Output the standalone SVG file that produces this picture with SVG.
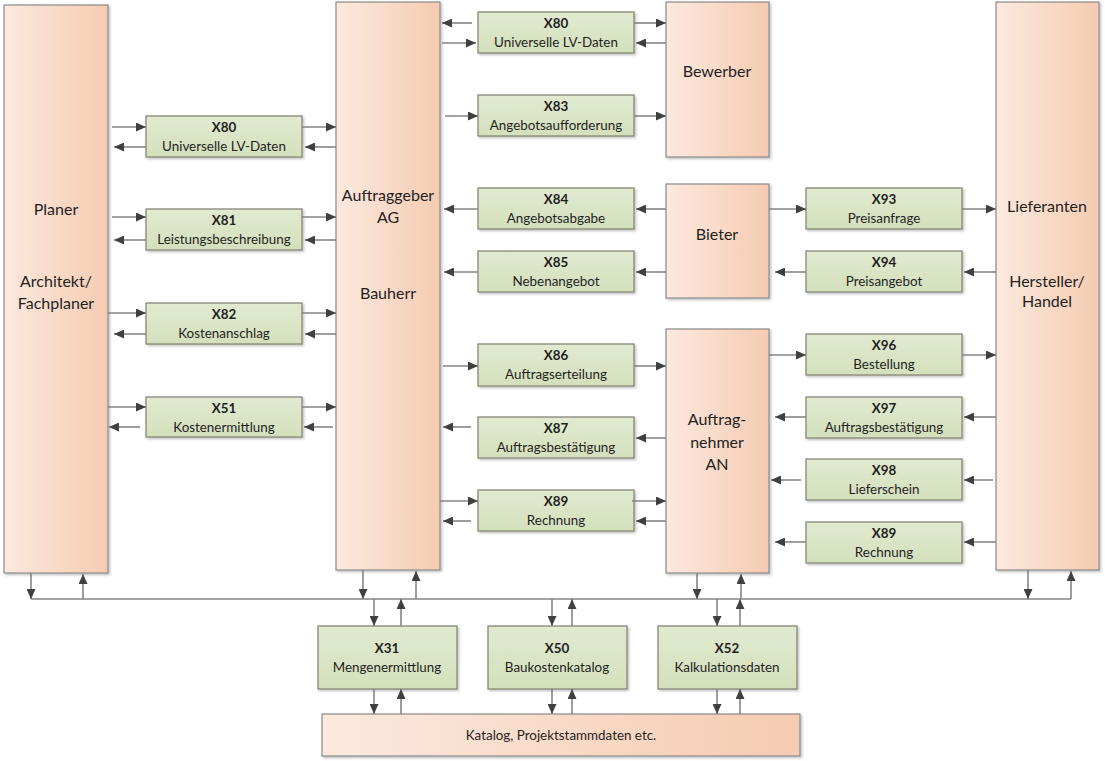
<svg xmlns="http://www.w3.org/2000/svg" width="1105" height="761" viewBox="0 0 1105 761">
<defs>
<linearGradient id="peach" x1="0" y1="0" x2="1" y2="0">
<stop offset="0" stop-color="#fce9de"/>
<stop offset="1" stop-color="#f5cbb2"/>
</linearGradient>
<linearGradient id="green" x1="0" y1="0" x2="0" y2="1">
<stop offset="0" stop-color="#e1ead0"/>
<stop offset="1" stop-color="#d4e0bc"/>
</linearGradient>
<filter id="sh" x="-5%" y="-5%" width="115%" height="120%">
<feDropShadow dx="1.5" dy="1.5" stdDeviation="1" flood-color="#000" flood-opacity="0.25"/>
</filter>
<marker id="ah" viewBox="0 0 10 9" refX="10" refY="4.5" markerWidth="10" markerHeight="9" markerUnits="userSpaceOnUse" orient="auto">
<path d="M0,0 L10,4.5 L0,9 z" fill="#404040"/>
</marker>
</defs>
<style>
.p{fill:url(#peach);stroke:#8a8a8a;stroke-width:1.2;filter:url(#sh)}
.g{fill:url(#green);stroke:#7f7f6f;stroke-width:1.2;filter:url(#sh)}
text{font-family:Lato,"Open Sans","Liberation Sans",sans-serif;fill:#1f1f1f;text-anchor:middle}
.c{font-size:13.4px}
.b{font-size:13.4px;font-weight:bold}
.L{font-size:16px}
.cn line{stroke:#858585;stroke-width:1.6;fill:none}
.cn .a{marker-end:url(#ah)}
</style>
<rect width="1105" height="761" fill="#ffffff"/>

<g id="planer"><rect class="p" x="4" y="5" width="104" height="568"/>
<text class="L" x="56" y="215">Planer</text><text class="L" x="56" y="287">Architekt/</text><text class="L" x="56" y="309">Fachplaner</text></g>
<g id="auftraggeber"><rect class="p" x="336" y="2" width="104" height="568"/>
<text class="L" x="388" y="201">Auftraggeber</text><text class="L" x="388" y="223">AG</text><text class="L" x="388" y="299">Bauherr</text></g>
<g id="bewerber"><rect class="p" x="666" y="2" width="103" height="155"/>
<text class="L" x="717" y="77">Bewerber</text></g>
<g id="bieter"><rect class="p" x="666" y="184" width="103" height="114"/>
<text class="L" x="717" y="240">Bieter</text></g>
<g id="auftragnehmer"><rect class="p" x="666" y="329" width="103" height="244"/>
<text class="L" x="717" y="425">Auftrag-</text><text class="L" x="717" y="448">nehmer</text><text class="L" x="717" y="470">AN</text></g>
<g id="lieferanten"><rect class="p" x="996" y="2" width="103" height="568"/>
<text class="L" x="1047" y="212">Lieferanten</text><text class="L" x="1047" y="287">Hersteller/</text><text class="L" x="1047" y="307">Handel</text></g>
<g id="katalog"><rect class="p" x="322" y="714" width="478" height="42"/>
<text class="c" x="561" y="740">Katalog, Projektstammdaten etc.</text></g>

<g id="x80a"><rect class="g" x="146" y="116" width="156" height="41"/><text class="b" x="224" y="132">X80</text><text class="c" x="224" y="151">Universelle LV-Daten</text></g>
<g id="x81"><rect class="g" x="146" y="209" width="156" height="41"/><text class="b" x="224" y="225">X81</text><text class="c" x="224" y="244">Leistungsbeschreibung</text></g>
<g id="x82"><rect class="g" x="146" y="303" width="156" height="41"/><text class="b" x="224" y="319">X82</text><text class="c" x="224" y="338">Kostenanschlag</text></g>
<g id="x51"><rect class="g" x="146" y="397" width="156" height="40"/><text class="b" x="224" y="413">X51</text><text class="c" x="224" y="432">Kostenermittlung</text></g>

<g id="x80b"><rect class="g" x="478" y="12" width="156" height="41"/><text class="b" x="556" y="28">X80</text><text class="c" x="556" y="47">Universelle LV-Daten</text></g>
<g id="x83"><rect class="g" x="478" y="95" width="156" height="41"/><text class="b" x="556" y="111">X83</text><text class="c" x="556" y="130">Angebotsaufforderung</text></g>
<g id="x84"><rect class="g" x="478" y="188" width="156" height="41"/><text class="b" x="556" y="204">X84</text><text class="c" x="556" y="223">Angebotsabgabe</text></g>
<g id="x85"><rect class="g" x="478" y="251" width="156" height="41"/><text class="b" x="556" y="267">X85</text><text class="c" x="556" y="286">Nebenangebot</text></g>
<g id="x86"><rect class="g" x="478" y="344" width="156" height="42"/><text class="b" x="556" y="360">X86</text><text class="c" x="556" y="379">Auftragserteilung</text></g>
<g id="x87"><rect class="g" x="478" y="417" width="156" height="41"/><text class="b" x="556" y="433">X87</text><text class="c" x="556" y="452">Auftragsbestätigung</text></g>
<g id="x89a"><rect class="g" x="478" y="490" width="156" height="41"/><text class="b" x="556" y="506">X89</text><text class="c" x="556" y="525">Rechnung</text></g>

<g id="x93"><rect class="g" x="806" y="188" width="156" height="41"/><text class="b" x="884" y="204">X93</text><text class="c" x="884" y="223">Preisanfrage</text></g>
<g id="x94"><rect class="g" x="806" y="251" width="156" height="41"/><text class="b" x="884" y="267">X94</text><text class="c" x="884" y="286">Preisangebot</text></g>
<g id="x96"><rect class="g" x="806" y="334" width="156" height="41"/><text class="b" x="884" y="350">X96</text><text class="c" x="884" y="369">Bestellung</text></g>
<g id="x97"><rect class="g" x="806" y="397" width="156" height="41"/><text class="b" x="884" y="413">X97</text><text class="c" x="884" y="432">Auftragsbestätigung</text></g>
<g id="x98"><rect class="g" x="806" y="459" width="156" height="41"/><text class="b" x="884" y="475">X98</text><text class="c" x="884" y="494">Lieferschein</text></g>
<g id="x89b"><rect class="g" x="806" y="522" width="156" height="41"/><text class="b" x="884" y="538">X89</text><text class="c" x="884" y="557">Rechnung</text></g>

<g id="x31"><rect class="g" x="318" y="626" width="139" height="63"/><text class="b" x="387" y="653">X31</text><text class="c" x="387" y="672">Mengenermittlung</text></g>
<g id="x50"><rect class="g" x="488" y="626" width="139" height="63"/><text class="b" x="557" y="653">X50</text><text class="c" x="557" y="672">Baukostenkatalog</text></g>
<g id="x52"><rect class="g" x="658" y="626" width="139" height="63"/><text class="b" x="727" y="653">X52</text><text class="c" x="727" y="672">Kalkulationsdaten</text></g>

<g id="connectors" class="cn">
<line class="a" x1="112" y1="127" x2="146" y2="127"/><line class="a" x1="146" y1="147" x2="114" y2="147"/>
<line class="a" x1="302" y1="127" x2="336" y2="127"/><line class="a" x1="336" y1="147" x2="305" y2="147"/>
<line class="a" x1="112" y1="217" x2="146" y2="217"/><line class="a" x1="146" y1="240" x2="114" y2="240"/>
<line class="a" x1="302" y1="217" x2="336" y2="217"/><line class="a" x1="336" y1="240" x2="305" y2="240"/>
<line class="a" x1="108" y1="313" x2="146" y2="313"/><line class="a" x1="146" y1="334" x2="114" y2="334"/>
<line class="a" x1="302" y1="313" x2="336" y2="313"/><line class="a" x1="336" y1="334" x2="305" y2="334"/>
<line class="a" x1="108" y1="407" x2="146" y2="407"/><line class="a" x1="140" y1="427" x2="109" y2="427"/>
<line class="a" x1="302" y1="407" x2="336" y2="407"/><line class="a" x1="333" y1="427" x2="304" y2="427"/>

<line class="a" x1="472" y1="23" x2="442" y2="23"/><line class="a" x1="442" y1="43" x2="476" y2="43"/>
<line class="a" x1="634" y1="23" x2="666" y2="23"/><line class="a" x1="666" y1="43" x2="636" y2="43"/>
<line class="a" x1="445" y1="116" x2="478" y2="116"/><line class="a" x1="634" y1="116" x2="666" y2="116"/>
<line class="a" x1="478" y1="209" x2="444" y2="209"/><line class="a" x1="666" y1="209" x2="636" y2="209"/>
<line class="a" x1="478" y1="272" x2="444" y2="272"/><line class="a" x1="666" y1="272" x2="636" y2="272"/>
<line class="a" x1="443" y1="366" x2="478" y2="366"/><line class="a" x1="634" y1="366" x2="666" y2="366"/>
<line class="a" x1="471" y1="427" x2="443" y2="427"/><line class="a" x1="666" y1="438" x2="636" y2="438"/>
<line class="a" x1="440" y1="501" x2="478" y2="501"/><line class="a" x1="471" y1="521" x2="443" y2="521"/>
<line class="a" x1="632" y1="501" x2="666" y2="501"/><line class="a" x1="666" y1="521" x2="636" y2="521"/>

<line class="a" x1="769" y1="209" x2="806" y2="209"/><line class="a" x1="962" y1="209" x2="996" y2="209"/>
<line class="a" x1="996" y1="272" x2="964" y2="272"/><line class="a" x1="806" y1="272" x2="775" y2="272"/>
<line class="a" x1="769" y1="355" x2="806" y2="355"/><line class="a" x1="962" y1="355" x2="996" y2="355"/>
<line class="a" x1="996" y1="417" x2="964" y2="417"/><line class="a" x1="806" y1="417" x2="775" y2="417"/>
<line class="a" x1="993" y1="480" x2="964" y2="480"/><line class="a" x1="801" y1="480" x2="771" y2="480"/>
<line class="a" x1="996" y1="542" x2="964" y2="542"/><line class="a" x1="806" y1="542" x2="775" y2="542"/>

<line x1="31" y1="599" x2="1071" y2="599"/>
<line class="a" x1="31" y1="573" x2="31" y2="599"/><line class="a" x1="83" y1="599" x2="83" y2="574"/>
<line class="a" x1="363" y1="570" x2="363" y2="599"/><line class="a" x1="416" y1="599" x2="416" y2="571"/>
<line class="a" x1="697" y1="573" x2="697" y2="599"/><line class="a" x1="741" y1="599" x2="741" y2="574"/>
<line class="a" x1="1028" y1="570" x2="1028" y2="599"/><line class="a" x1="1071" y1="599" x2="1071" y2="571"/>

<line class="a" x1="374" y1="599" x2="374" y2="626"/><line class="a" x1="401" y1="626" x2="401" y2="599"/>
<line class="a" x1="374" y1="689" x2="374" y2="714"/><line class="a" x1="401" y1="714" x2="401" y2="689"/>
<line class="a" x1="552" y1="599" x2="552" y2="626"/><line class="a" x1="572" y1="626" x2="572" y2="599"/>
<line class="a" x1="552" y1="689" x2="552" y2="714"/><line class="a" x1="572" y1="714" x2="572" y2="689"/>
<line class="a" x1="717" y1="599" x2="717" y2="626"/><line class="a" x1="740" y1="626" x2="740" y2="599"/>
<line class="a" x1="717" y1="689" x2="717" y2="714"/><line class="a" x1="740" y1="714" x2="740" y2="689"/>
</g>
</svg>
